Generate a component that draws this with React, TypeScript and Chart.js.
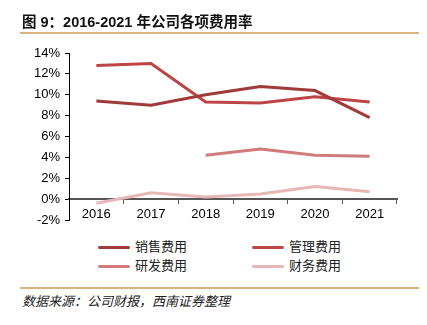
import React, { useEffect, useRef } from 'react';
import { Chart, registerables } from 'chart.js';

Chart.register(...registerables);

const years = ['2016', '2017', '2018', '2019', '2020', '2021'];
const salesRate = [9.4, 9.0, 10.0, 10.8, 10.4, 7.8];
const mgmtRate = [12.8, 13.0, 9.3, 9.2, 9.8, 9.3];
const rndRate = [null, null, 4.2, 4.8, 4.2, 4.1];
const finRate = [-0.4, 0.6, 0.2, 0.5, 1.2, 0.7];
const seriesNames = ['销售费用', '管理费用', '研发费用', '财务费用'];
const seriesColors = ['#A13A3A', '#BD4545', '#D27B7B', '#E6B7B7'];
const yMin = -2;
const yMax = 14;
const yStep = 2;

const titleText = '图 9：2016-2021 年公司各项费用率';
const sourceText = '数据来源：公司财报，西南证券整理';

const latin = '"Liberation Sans", Arial, "Noto Sans CJK SC", sans-serif';
const cjk = '"Liberation Sans", "Noto Sans CJK SC", sans-serif';

export default function App() {
  const ref = useRef<HTMLCanvasElement | null>(null);

  useEffect(() => {
    if (!ref.current) return;
    const allData = [salesRate, mgmtRate, rndRate, finRate];
    const chart = new Chart(ref.current, {
      type: 'line',
      data: {
        labels: years,
        datasets: seriesNames.map((n, i) => ({
          label: n,
          data: allData[i] as any,
          borderColor: seriesColors[i],
          backgroundColor: seriesColors[i],
          borderWidth: 3,
          pointRadius: 0,
          tension: 0,
          spanGaps: false,
        })),
      },
      options: {
        responsive: false,
        animation: false,
        devicePixelRatio: 1,
        layout: { padding: { top: 53, right: 30, bottom: 15, left: 0 } },
        plugins: { legend: { display: false }, tooltip: { enabled: false } },
        scales: {
          x: {
            type: 'category',
            position: { y: 0 } as any,
            offset: true,
            grid: {
              display: true,
              drawOnChartArea: false,
              drawTicks: true,
              tickLength: 4,
              offset: true,
              color: '#555',
              lineWidth: 1,
            },
            border: { display: true, color: '#555', width: 2 },
            ticks: { color: '#000', font: { family: latin, size: 13 }, padding: 3, maxRotation: 0 },
          },
          y: {
            min: yMin,
            max: yMax,
            grid: {
              display: true,
              drawOnChartArea: false,
              drawTicks: true,
              tickLength: 4,
              color: '#000',
            },
            border: { display: true, color: '#000', width: 1 },
            ticks: {
              stepSize: yStep,
              color: '#000',
              padding: 5,
              font: { family: latin, size: 13 },
              callback: (v: any) => v + '%',
            },
            afterFit: (s: any) => {
              s.width = 69;
            },
          },
        },
      },
    });
    return () => chart.destroy();
  }, []);

  const legendPos = [
    { lx: 98, ty: 247 },
    { lx: 252, ty: 247 },
    { lx: 98, ty: 266 },
    { lx: 252, ty: 266 },
  ];

  return (
    <div style={{ position: 'fixed', left: 0, top: 0, width: 427, height: 325, background: '#fff', overflow: 'hidden' }}>
      <canvas ref={ref} width={427} height={235} style={{ position: 'absolute', left: 0, top: 0, width: 427, height: 235 }} />
      <div style={{ position: 'absolute', left: 22, top: 13, fontFamily: cjk, fontWeight: 'bold', fontSize: 14.5, lineHeight: '19px', color: '#111', whiteSpace: 'nowrap' }}>
        {titleText}
      </div>
      <div style={{ position: 'absolute', left: 20, top: 32, width: 399, height: 2, background: '#D9B47F' }} />
      {seriesNames.map((n, i) => (
        <React.Fragment key={n}>
          <div style={{ position: 'absolute', left: legendPos[i].lx, top: legendPos[i].ty - 1.5, width: 32, height: 3, borderRadius: 1.5, background: seriesColors[i] }} />
          <div style={{ position: 'absolute', left: legendPos[i].lx + 37, top: legendPos[i].ty - 9, fontFamily: cjk, fontSize: 13, lineHeight: '18px', color: '#222', whiteSpace: 'nowrap' }}>
            {n}
          </div>
        </React.Fragment>
      ))}
      <div style={{ position: 'absolute', left: 20, top: 287, width: 399, height: 2, background: '#D9B47F' }} />
      <div style={{ position: 'absolute', left: 22, top: 293, fontFamily: cjk, fontStyle: 'italic', fontSize: 13, lineHeight: '18px', color: '#222', whiteSpace: 'nowrap' }}>
        {sourceText}
      </div>
    </div>
  );
}
